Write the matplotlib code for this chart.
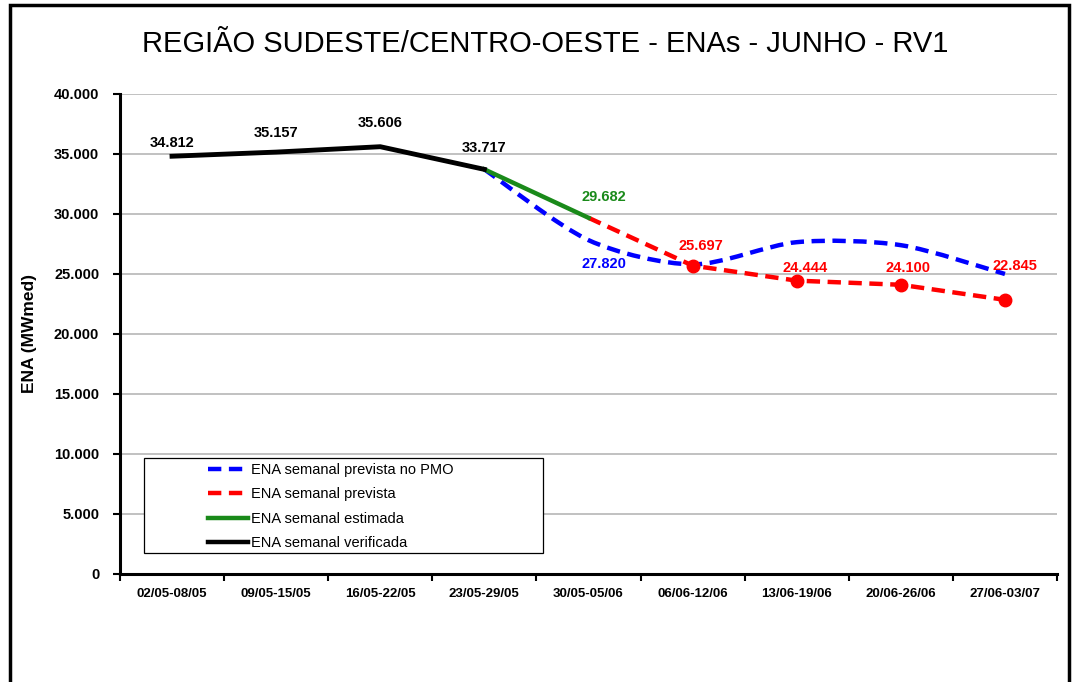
import matplotlib
matplotlib.use("Agg")
import matplotlib.pyplot as plt
import numpy as np
from matplotlib.lines import Line2D
from matplotlib.patches import Rectangle, PathPatch
from matplotlib.path import Path
from matplotlib.ticker import FuncFormatter, MultipleLocator

weeks = ["02/05-08/05", "09/05-15/05", "16/05-22/05", "23/05-29/05", "30/05-05/06",
         "06/06-12/06", "13/06-19/06", "20/06-26/06", "27/06-03/07"]
verificada = [34812, 35157, 35606, 33717]          # weeks 0-3
estimada = [33717, 29682]                          # weeks 3-4
prevista = [29682, 25697, 24444, 24100, 22845]     # weeks 4-8
pmo = [33717, 27820, 25800, 27650, 27400, 25000]   # weeks 3-8

BLUE, RED, GREEN = "#0000FF", "#FF0000", "#1A8A1A"
DASH = (0, (3, 1.7))

plt.rcParams["font.family"] = ["Liberation Sans", "DejaVu Sans"]


def fmt(v, _=None):
    return f"{int(v):,}".replace(",", ".")


def smooth_path(xs, ys, t=0.14):
    # Excel-style smoothed line as cubic Bezier through the points
    pts = np.column_stack([xs, ys]).astype(float)
    verts = [pts[0]]
    codes = [Path.MOVETO]
    n = len(pts)
    for i in range(n - 1):
        p0 = pts[i - 1] if i > 0 else pts[i]
        p1, p2 = pts[i], pts[i + 1]
        p3 = pts[i + 2] if i + 2 < n else pts[i + 1]
        verts += [p1 + (p2 - p0) * t, p2 - (p3 - p1) * t, p2]
        codes += [Path.CURVE4] * 3
    return Path(verts, codes)


fig = plt.figure(figsize=(10.73, 6.82), dpi=100)
ax = fig.add_axes([0.1118, 0.1584, 0.8733, 0.7038])

x = np.arange(len(weeks))
ax.set_xlim(-0.5, len(weeks) - 0.5)
ax.set_ylim(0, 40000)

# blue smoothed PMO forecast
ax.add_patch(PathPatch(smooth_path(x[3:], pmo), fill=False, ec=BLUE, lw=3.2,
                       ls=DASH, zorder=3))
ax.plot(x[4:], prevista, color=RED, lw=3.2, ls=DASH, zorder=4)
ax.plot(x[5:], prevista[1:], ls="none", marker="o", ms=9, color=RED, zorder=5)
ax.plot(x[3:5], estimada, color=GREEN, lw=3.2, zorder=6)
ax.plot(x[:4], verificada, color="black", lw=3.5, zorder=7)

# data labels (offsets in pixels -> points)
lab = dict(fontsize=10.5, fontweight="bold", ha="center", va="center")
px = 0.72


def label(xi, v, dx, dy, color="black"):
    ax.annotate(fmt(v), (xi, v), xytext=(dx * px, dy * px),
                textcoords="offset points", color=color, **lab)


for i, (v, dy) in enumerate(zip(verificada, [13, 19, 24, 21])):
    label(x[i], v, 0, dy)
label(x[4], estimada[1], 15, 21, GREEN)
label(x[4], pmo[1], 15, -24, BLUE)
for i, (v, dx, dy) in enumerate(zip(prevista[1:], [8, 8, 7, 10], [20, 13, 17, 34])):
    label(x[5 + i], v, dx, dy, RED)

# axes styling
ax.yaxis.set_major_locator(MultipleLocator(5000))
ax.yaxis.set_major_formatter(FuncFormatter(fmt))
ax.grid(axis="y", color="#B0B0B0", lw=1.1)
ax.set_axisbelow(True)
ax.set_xticks(x)
ax.set_xticklabels(weeks, fontsize=9.5, fontweight="bold")
ax.set_xticks(np.arange(-0.5, len(weeks)), minor=True)
ax.tick_params(axis="x", which="major", length=0, pad=10)
ax.tick_params(axis="x", which="minor", length=5, width=1.5, direction="out")
ax.tick_params(axis="y", length=5, width=1.5, direction="out", labelsize=10.5, pad=10)
for t in ax.get_yticklabels():
    t.set_fontweight("bold")
for s in ("top", "right"):
    ax.spines[s].set_visible(False)
for s in ("left", "bottom"):
    ax.spines[s].set_linewidth(2.2)
ax.set_ylabel("ENA (MWmed)", fontsize=12.5, fontweight="bold", labelpad=12)

# legend: own frame box, entries placed inside it
ax.add_patch(Rectangle((0.0256, 0.04375), 0.4258, 0.198, transform=ax.transAxes,
                       fc="white", ec="black", lw=0.9, zorder=8))
handles = [
    Line2D([], [], color=BLUE, lw=3.2, ls=DASH),
    Line2D([], [], color=RED, lw=3.2, ls=DASH),
    Line2D([], [], color=GREEN, lw=3.2),
    Line2D([], [], color="black", lw=3.2),
]
labels = ["ENA semanal prevista no PMO", "ENA semanal prevista",
          "ENA semanal estimada", "ENA semanal verificada"]
leg = ax.legend(handles, labels, loc="upper left", bbox_to_anchor=(0.0939, 0.2315),
                fontsize=10.5, frameon=False, handlelength=2.75, handletextpad=0.2,
                borderpad=0, labelspacing=0.72, borderaxespad=0)
leg.set_zorder(9)

fig.text(0.508, 0.935, "REGIÃO SUDESTE/CENTRO-OESTE - ENAs - JUNHO - RV1",
         ha="center", va="center", fontsize=21)

fig.patches.append(Rectangle((10 / 1073, -0.1), 1059 / 1073, 1.1 - 5 / 682,
                             transform=fig.transFigure, fill=False, ec="black", lw=2.5))

fig.savefig("out.png", dpi=100)
